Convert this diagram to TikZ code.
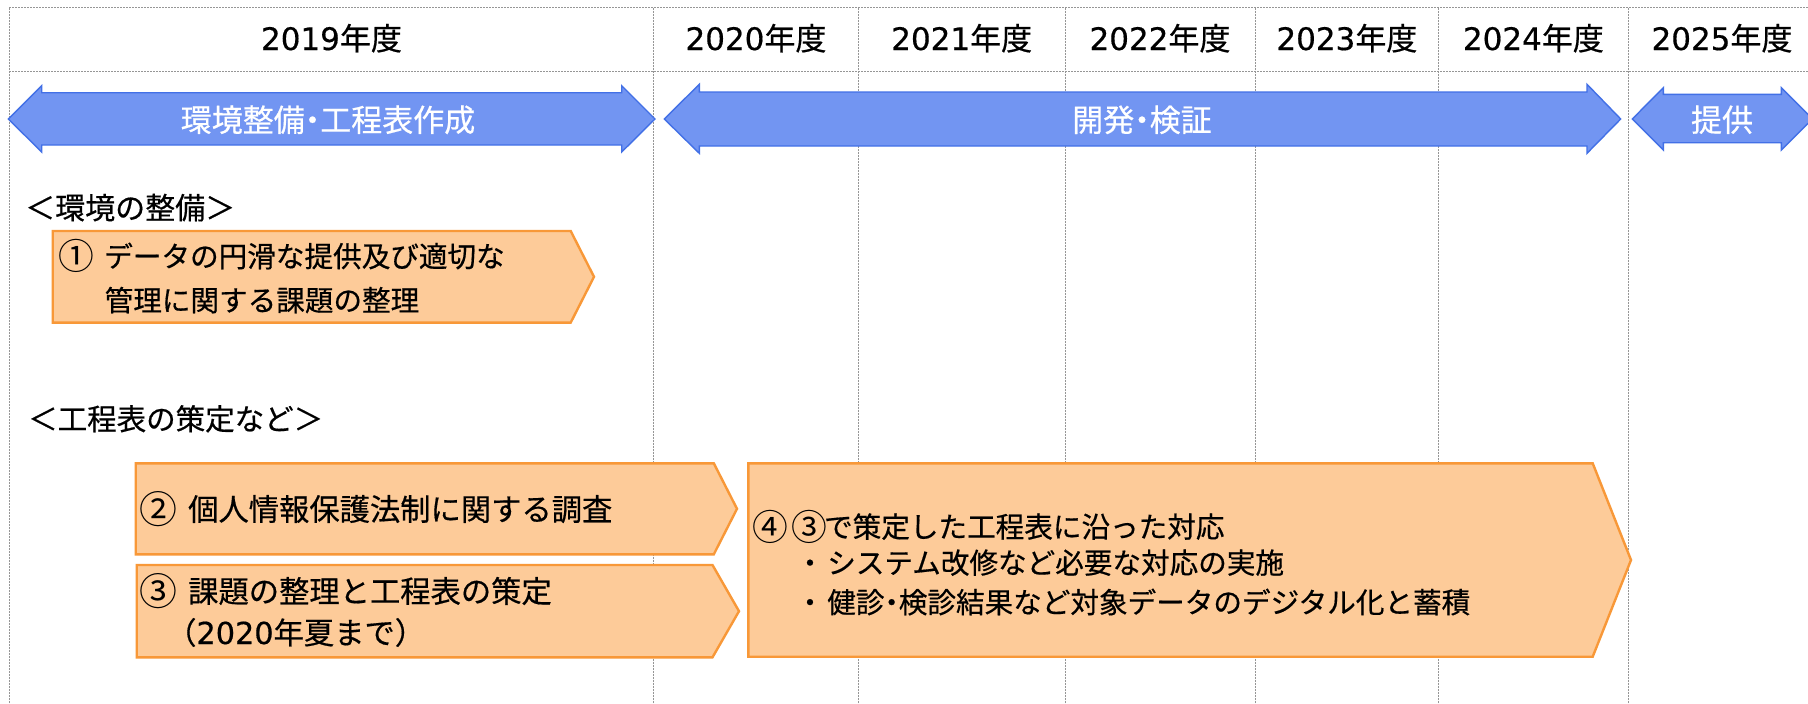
\documentclass[tikz,border=0pt]{standalone}
\usepackage{fontspec}
\usepackage{graphicx}
\setmainfont{Noto Sans CJK JP}[RawFeature={embolden=0.5}]
\newfontfamily\cnfont{Noto Sans CJK JP}
\newfontfamily\dvs{DejaVu Sans}[RawFeature={embolden=0.5}]
\newcommand\dg[1]{{\dvs #1}}
\newcommand\nkg{\makebox[0.5em][c]{・}}
\newcommand\cn[1]{\makebox[1em][c]{\raisebox{-0.1em}{\scalebox{1.25}{\cnfont #1}}}}
\definecolor{arrfill}{RGB}{114,149,242}
\definecolor{arrline}{RGB}{66,112,230}
\definecolor{boxfill}{RGB}{253,203,153}
\definecolor{boxline}{RGB}{248,152,56}
\definecolor{gridc}{RGB}{150,150,150}
\tikzset{
 gridline/.style={draw=gridc, line width=0.9pt, dash pattern=on 2pt off 1pt},
 bluearrow/.style={fill=arrfill, draw=arrline, line width=1.4pt, line join=miter},
 chevbox/.style={fill=boxfill, draw=boxline, line width=2.4pt, line join=miter},
 yearlbl/.style={anchor=base, inner sep=0pt, font=\fontsize{31}{36}\selectfont},
 arrlbl/.style={anchor=base, inner sep=0pt, text=white, font=\fontsize{31}{36}\selectfont},
 seclbl/.style={anchor=base west, inner sep=0pt, font=\fontsize{30}{34}\selectfont},
 bodylbl/.style={anchor=base west, inner sep=0pt, font=\fontsize{28.6}{34}\selectfont},
 biglbl/.style={anchor=base west, inner sep=0pt, font=\fontsize{30.3}{34}\selectfont},
}
\begin{document}
\begin{tikzpicture}[x=1pt,y=-1pt]
\useasboundingbox (0,0) rectangle (1808,704);
\fill[white] (0,0) rectangle (1808,704);
\clip (0,0) rectangle (1808,704);
% grid
\foreach \gx in {9.3,653.5,858.3,1065,1255,1438.7,1628}
  \draw[gridline] (\gx,7.5) -- (\gx,704);
\draw[gridline] (9.3,7.5) -- (1808,7.5);
\draw[gridline] (9.3,71.7) -- (1808,71.7);
% year headers
\node[yearlbl] (y2019) at (331.5,50) {\dg{2019}年度};
\node[yearlbl] (y2020) at (756,50) {\dg{2020}年度};
\node[yearlbl] (y2021) at (961.7,50) {\dg{2021}年度};
\node[yearlbl] (y2022) at (1160,50) {\dg{2022}年度};
\node[yearlbl] (y2023) at (1346.9,50) {\dg{2023}年度};
\node[yearlbl] (y2024) at (1533.4,50) {\dg{2024}年度};
\node[yearlbl] (y2025) at (1722,50) {\dg{2025}年度};
% blue arrows
\draw[bluearrow] (8.3,119) -- (41.7,85.7) -- (41.7,92.7) -- (621.7,92.7) -- (621.7,85.7) -- (655,119)
  -- (621.7,152) -- (621.7,145) -- (41.7,145) -- (41.7,152) -- cycle;
\draw[bluearrow] (664.3,119) -- (699.3,84.3) -- (699.3,92) -- (1587,92) -- (1587,84.3) -- (1620.7,119)
  -- (1587,153.3) -- (1587,146) -- (699.3,146) -- (699.3,153.3) -- cycle;
\draw[bluearrow] (1632.3,119) -- (1663.3,87.7) -- (1663.3,94.3) -- (1781.3,94.3) -- (1781.3,87.7) -- (1812.5,119)
  -- (1781.3,150) -- (1781.3,142.7) -- (1663.3,142.7) -- (1663.3,150) -- cycle;
\node[arrlbl] (a1) at (328,131.5) {環境整備\nkg 工程表作成};
\node[arrlbl] (a2) at (1142,131.5) {開発\nkg 検証};
\node[arrlbl] (a3) at (1722,131.5) {提供};
% section labels
\node[seclbl] (s1) at (25,219) {＜環境の整備＞};
\node[seclbl, font=\fontsize{29.5}{34}\selectfont] (s2) at (28,430) {＜工程表の策定など＞};
% orange boxes
\draw[chevbox] (52.7,231) -- (570.7,231) -- (594,276.8) -- (570.7,322.6) -- (52.7,322.6) -- cycle;
\draw[chevbox] (135.7,463.3) -- (713.8,463.3) -- (737,508.8) -- (713.8,554.3) -- (135.7,554.3) -- cycle;
\draw[chevbox] (136.7,565) -- (712.5,565) -- (739,611.2) -- (712.5,657.3) -- (136.7,657.3) -- cycle;
\draw[chevbox] (748.4,463.3) -- (1592.7,463.3) -- (1631,560) -- (1592.7,656.7) -- (748.4,656.7) -- cycle;
% box texts
\node[bodylbl] (b1a) at (61.5,267) {\cn{①}\hspace{14pt}データの円滑な提供及び適切な};
\node[bodylbl] (b1b) at (104.5,311) {管理に関する課題の整理};
\node[biglbl] (b2a) at (143.2,520.5) {\cn{②}\hspace{14.5pt}個人情報保護法制に関する調査};
\node[biglbl] (b3a) at (143.2,602.5) {\cn{③}\hspace{14.5pt}課題の整理と工程表の策定};
\node[biglbl] (b3b) at (166,644) {（\dg{2020}年夏まで）};
\node[bodylbl] (b4a) at (755.7,537.5) {\cn{④}\hspace{11pt}\cn{③}で策定した工程表に沿った対応};
\node[bodylbl] (b4b) at (795.5,573.5) {・\hspace{3pt}システム改修など必要な対応の実施};
\node[bodylbl] (b4c) at (795.5,613) {・\hspace{3pt}健診\nkg 検診結果など対象データのデジタル化と蓄積};
\end{tikzpicture}
\end{document}
